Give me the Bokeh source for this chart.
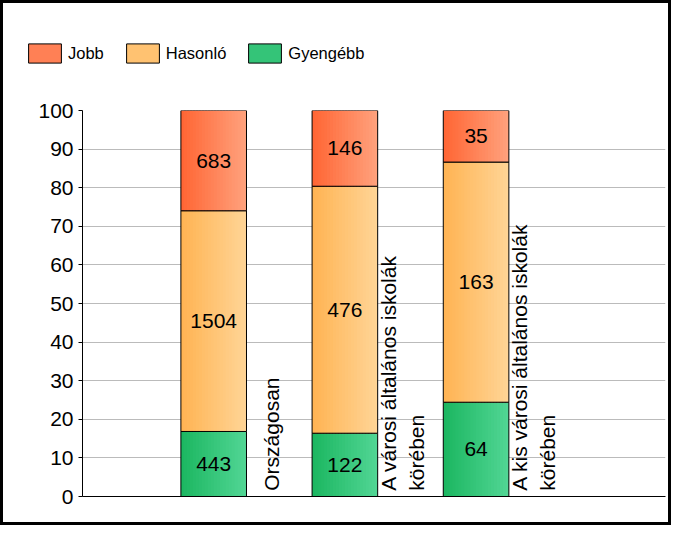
import numpy as np
from bokeh.plotting import figure
from bokeh.layouts import column
from bokeh.models import Range1d, FixedTicker, Legend, LegendItem
from bokeh.core.properties import value
from bokeh.embed import file_html
from bokeh.resources import INLINE

# ---- data ----
categories = ["Országosan",
              "A városi általános iskolák\nkörében",
              "A kis városi általános iskolák\nkörében"]
series_names = ["Jobb", "Hasonló", "Gyengébb"]
jobb = [683, 146, 35]
hasonlo = [1504, 476, 163]
gyengebb = [443, 122, 64]
y_ticks = [0, 10, 20, 30, 40, 50, 60, 70, 80, 90, 100]

# ---- style ----
FONT = "Liberation Sans"
grad = {
    "Gyengébb": ("#1BB660", "#52D695"),
    "Hasonló": ("#FFB352", "#FFD597"),
    "Jobb": ("#FF6533", "#FFA27E"),
}
BORDER = "3px solid black"

def mix(c1, c2, t):
    a = [int(c1[i:i + 2], 16) for i in (1, 3, 5)]
    b = [int(c2[i:i + 2], 16) for i in (1, 3, 5)]
    return "#%02x%02x%02x" % tuple(int(round(a[k] + (b[k] - a[k]) * t)) for k in range(3))

# ---- legend strip (top part of the chart) ----
lg = figure(width=671, height=93, output_backend="svg", toolbar_location=None,
            x_range=Range1d(0, 1), y_range=Range1d(0, 1),
            x_axis_location=None, y_axis_location=None, min_border=0)
lg.styles = {"border-top": BORDER, "border-left": BORDER, "border-right": BORDER}
lg.outline_line_color = None
lg.grid.visible = False
lg.border_fill_color = "white"

leg_r = {}
for name in series_names:
    c1, c2 = grad[name]
    # legend swatch only: NaN position, so nothing is drawn in the strip itself
    leg_r[name] = lg.vbar(x=[np.nan], top=[np.nan], width=0.5,
                          fill_color=mix(c1, c2, 0.45), line_color="black", line_width=1)
legend = Legend(items=[LegendItem(label=n, renderers=[leg_r[n]]) for n in series_names],
                orientation="horizontal", location=(21, 31),
                glyph_width=41, glyph_height=24, label_height=19, label_standoff=3,
                spacing=18, padding=0, margin=0,
                label_text_font=FONT, label_text_font_size="16.5px",
                label_text_color="black",
                border_line_color=None, background_fill_alpha=0)
lg.add_layout(legend, "center")

# ---- main chart ----
p = figure(width=671, height=432, output_backend="svg", toolbar_location=None,
           x_range=Range1d(0, 4.444), y_range=Range1d(0, 100),
           min_border_left=79, min_border_right=9, min_border_top=17,
           min_border_bottom=29)
p.styles = {"border-bottom": BORDER, "border-left": BORDER, "border-right": BORDER}
p.outline_line_color = None
p.background_fill_color = "white"
p.border_fill_color = "white"

p.yaxis.ticker = FixedTicker(ticks=y_ticks)
p.yaxis.major_label_text_font = FONT
p.yaxis.major_label_text_font_size = "21px"
p.yaxis.major_label_text_color = "black"
p.yaxis.axis_line_color = "black"
p.yaxis.major_tick_line_color = "black"
p.yaxis.major_tick_out = 4
p.yaxis.major_tick_in = 0
p.yaxis.minor_tick_line_color = None
p.yaxis.major_label_standoff = 5

p.xaxis.ticker = FixedTicker(ticks=[])
p.xaxis.axis_line_color = "black"
p.xaxis.major_tick_line_color = None
p.xaxis.minor_tick_line_color = None
p.xaxis.major_label_text_font_size = "0px"

p.xgrid.grid_line_color = None
p.ygrid.ticker = FixedTicker(ticks=y_ticks)
p.ygrid.grid_line_color = "#BBBBBB"

xs = np.arange(1, len(categories) + 1, dtype=float)
counts = {"Gyengébb": np.array(gyengebb, float),
          "Hasonló": np.array(hasonlo, float),
          "Jobb": np.array(jobb, float)}
total = counts["Gyengébb"] + counts["Hasonló"] + counts["Jobb"]
bar_w = 0.5
N = 22

bottom = np.zeros(len(categories))
lab_x, lab_y, lab_t = [], [], []
for name in ["Gyengébb", "Hasonló", "Jobb"]:
    pct = counts[name] / total * 100
    top = bottom + pct
    c1, c2 = grad[name]
    L, R, B, T, C = [], [], [], [], []
    for i in range(len(xs)):
        for k in range(N):
            l = xs[i] - bar_w / 2 + bar_w * k / N
            L.append(l)
            # overlap strips to hide anti-aliasing seams
            R.append(min(l + bar_w / N * 1.8, xs[i] + bar_w / 2))
            B.append(bottom[i])
            T.append(top[i])
            C.append(mix(c1, c2, (k + 0.5) / N))
    p.quad(left=L, right=R, bottom=B, top=T, fill_color=C, line_color=None)
    p.vbar(x=xs, width=bar_w, bottom=bottom, top=top,
           fill_alpha=0, line_color="black", line_width=1)
    for i in range(len(xs)):
        lab_x.append(xs[i])
        lab_y.append((bottom[i] + top[i]) / 2)
        lab_t.append(str(int(counts[name][i])))
    bottom = top

p.text(x=lab_x, y=lab_y, text=lab_t, text_align="center", text_baseline="middle",
       text_font=value(FONT), text_font_size="21px", text_color="black")

p.text(x=xs + 0.44, y=[1.5] * len(xs), text=categories, angle=np.pi / 2,
       text_align="left", text_baseline="middle", text_line_height=1.2,
       text_font=value(FONT), text_font_size="21px", text_color="black")

layout = column(column(lg), p, spacing=0)
open("out.html", "w").write(file_html(layout, INLINE))
